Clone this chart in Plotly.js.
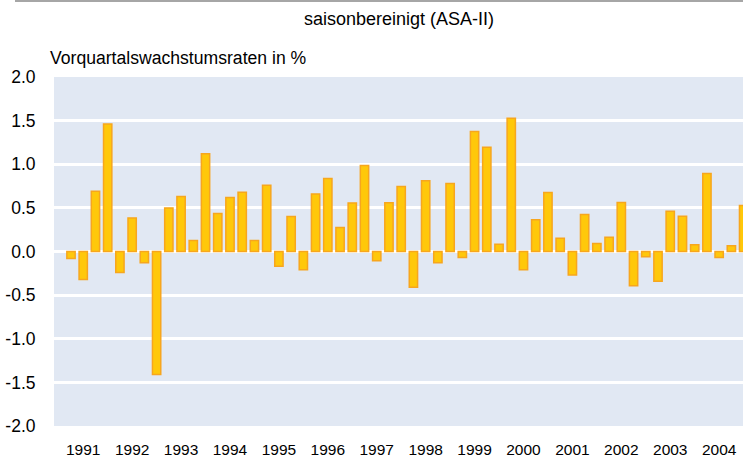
<!DOCTYPE html>
<html>
<head>
<meta charset="utf-8">
<script src="https://cdn.plot.ly/plotly-3.0.1.min.js"></script>
<style>
  html, body { margin: 0; padding: 0; background: #ffffff; }
  #chart { width: 743px; height: 459px; }
</style>
</head>
<body>
<div id="chart"></div>
<script>
// Years shown on the axis
const years = [1991, 1992, 1993, 1994, 1995, 1996, 1997, 1998, 1999, 2000, 2001, 2002, 2003, 2004];
const quarterNames = ["Q1", "Q2", "Q3", "Q4"];

// Quarter categories (one per bar)
const quarters = [];
years.forEach(y => quarterNames.forEach(q => quarters.push(y + " " + q)));

// Quarter-on-quarter growth rates in % (seasonally adjusted, ASA-II)
const growth = [
  -0.08, -0.32, 0.69, 1.46,
  -0.24, 0.385, -0.13, -1.41,
  0.50, 0.63, 0.126, 1.12,
  0.435, 0.62, 0.68, 0.126,
  0.76, -0.17, 0.40, -0.21,
  0.66, 0.836, 0.275, 0.557,
  0.985, -0.107, 0.56, 0.744,
  -0.41, 0.81, -0.13, 0.78,
  -0.07, 1.374, 1.195, 0.084,
  1.527, -0.21, 0.363, 0.676,
  0.153, -0.27, 0.424, 0.092,
  0.164, 0.561, -0.393, -0.061,
  -0.34, 0.462, 0.405, 0.076,
  0.893, -0.069, 0.065, 0.527
];

// Tick labels: year label placed under the second quarter of each year
const tickQuarters = years.map(y => y + " Q2");
const tickLabels = years.map(String);

const yTickVals = [-2.0, -1.5, -1.0, -0.5, 0.0, 0.5, 1.0, 1.5, 2.0];
const yTickText = ["-2.0", "-1.5", "-1.0", "-0.5", "0.0", "0.5", "1.0", "1.5", "2.0"];

const titleText = "saisonbereinigt (ASA-II)";
const yLabelText = "Vorquartalswachstumsraten in %";

const FONT = "Liberation Sans, Arial, sans-serif";

const trace = {
  type: "bar",
  x: quarters,
  y: growth,
  width: 0.68,
  marker: {
    color: "#FFC80A",
    line: { color: "#F7A61E", width: 1.5 }
  },
  hoverinfo: "skip"
};

const layout = {
  width: 743,
  height: 459,
  margin: { l: 54, r: 0, t: 77, b: 33, pad: 0 },
  paper_bgcolor: "#ffffff",
  plot_bgcolor: "#E1E8F3",
  showlegend: false,
  font: { family: FONT, color: "#000000" },
  xaxis: {
    type: "category",
    categoryorder: "array",
    categoryarray: quarters,
    range: [-1.39, 54.95],
    tickmode: "array",
    tickvals: tickQuarters,
    ticktext: tickLabels,
    ticks: "outside",
    ticklen: 9,
    tickcolor: "rgba(0,0,0,0)",
    tickfont: { family: FONT, size: 15.5, color: "#000000" },
    showgrid: false,
    zeroline: false,
    showline: false,
    fixedrange: true
  },
  yaxis: {
    range: [-2, 2],
    tickmode: "array",
    tickvals: yTickVals,
    ticktext: yTickText,
    ticks: "outside",
    ticklen: 14,
    tickcolor: "rgba(0,0,0,0)",
    tickfont: { family: FONT, size: 17.5, color: "#000000" },
    showgrid: true,
    gridcolor: "#ffffff",
    gridwidth: 3,
    zeroline: true,
    zerolinecolor: "#ffffff",
    zerolinewidth: 3,
    showline: false,
    fixedrange: true
  },
  annotations: [
    {
      text: titleText,
      xref: "paper", yref: "paper",
      x: 0.500, y: 1.1674,
      xanchor: "center", yanchor: "middle",
      showarrow: false,
      font: { family: FONT, size: 18, color: "#000000" }
    },
    {
      text: yLabelText,
      xref: "paper", yref: "paper",
      x: -0.0087, y: 1.0558,
      xanchor: "left", yanchor: "middle",
      showarrow: false,
      font: { family: FONT, size: 17.6, color: "#000000" }
    }
  ],
  shapes: [
    {
      type: "line",
      xref: "paper", yref: "paper",
      x0: -0.0566, x1: 1.0,
      y0: 1.2175, y1: 1.2175,
      line: { color: "#888888", width: 1.5 }
    }
  ]
};

Plotly.newPlot("chart", [trace], layout, { displayModeBar: false, staticPlot: true });
</script>
</body>
</html>
